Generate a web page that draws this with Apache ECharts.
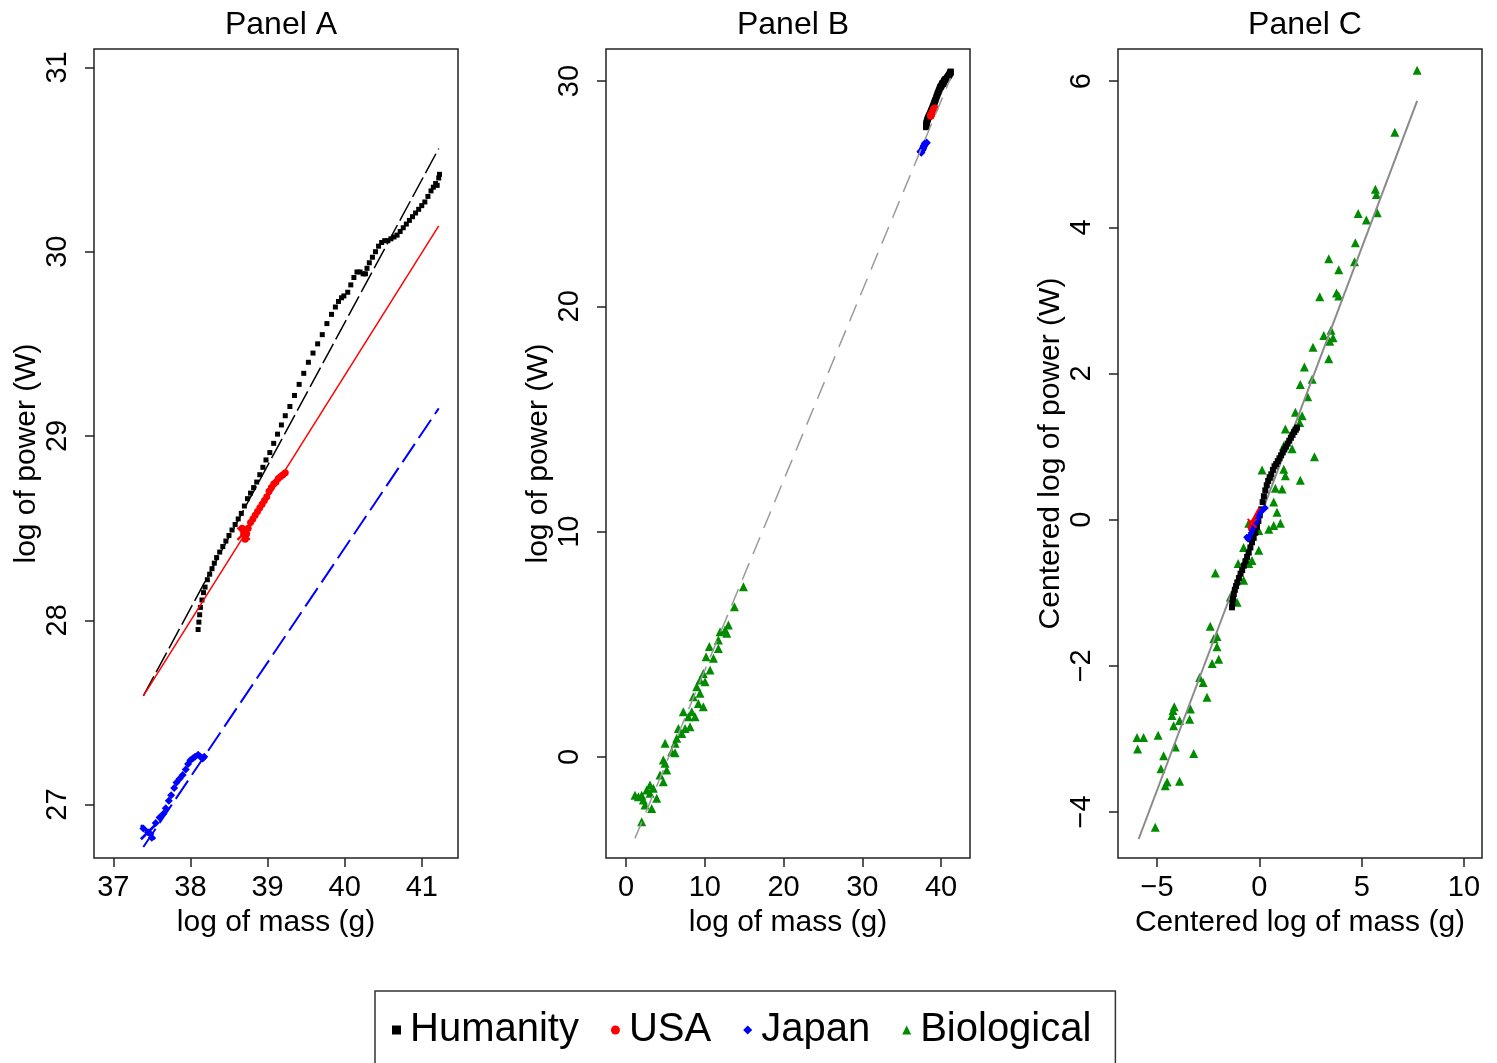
<!DOCTYPE html>
<html>
<head>
<meta charset="utf-8">
<title>Panels A, B, C</title>
<script src="https://cdn.jsdelivr.net/npm/echarts@6/dist/echarts.min.js"></script>
<style>
  html, body { margin: 0; padding: 0; background: #fff; }
  #chart { width: 1497px; height: 1063px; }
</style>
</head>
<body>
<div id="chart"></div>
<script>
// --- data ---

// Panel A / B: raw log values (same points in both panels)
const humanityA = [
  [38.10, 27.95], [38.11, 27.99], [38.12, 28.03], [38.13, 28.07], [38.15, 28.11], [38.17, 28.15],
  [38.19, 28.18], [38.22, 28.22], [38.25, 28.25], [38.28, 28.28], [38.31, 28.31], [38.34, 28.34],
  [38.38, 28.37], [38.42, 28.40], [38.46, 28.43], [38.50, 28.46], [38.54, 28.49], [38.58, 28.52],
  [38.62, 28.55], [38.66, 28.58], [38.70, 28.62], [38.74, 28.66], [38.78, 28.69], [38.82, 28.72],
  [38.86, 28.75], [38.90, 28.79], [38.94, 28.83], [38.98, 28.87], [39.03, 28.91], [39.08, 28.96],
  [39.13, 29.01], [39.18, 29.06], [39.23, 29.11], [39.29, 29.16], [39.35, 29.22], [39.41, 29.28],
  [39.47, 29.34], [39.53, 29.40], [39.59, 29.45], [39.65, 29.50], [39.71, 29.55], [39.77, 29.61],
  [39.83, 29.66], [39.88, 29.70], [39.92, 29.73], [39.96, 29.75], [39.99, 29.76], [40.04, 29.78],
  [40.08, 29.82], [40.12, 29.86], [40.16, 29.89], [40.20, 29.89], [40.24, 29.88], [40.27, 29.88],
  [40.29, 29.91], [40.32, 29.94], [40.36, 29.97], [40.40, 30.00], [40.44, 30.03], [40.48, 30.05],
  [40.52, 30.06], [40.56, 30.06], [40.60, 30.07], [40.64, 30.08], [40.68, 30.09], [40.72, 30.11],
  [40.76, 30.13], [40.80, 30.15], [40.84, 30.17], [40.88, 30.19], [40.92, 30.21], [40.96, 30.23],
  [41.00, 30.25], [41.04, 30.27], [41.08, 30.30], [41.12, 30.33], [41.15, 30.35], [41.18, 30.37],
  [41.20, 30.36], [41.22, 30.40], [41.23, 30.42]
];
const usaA = [
  [38.69, 28.47], [38.67, 28.50], [38.71, 28.44], [38.73, 28.47], [38.75, 28.50], [38.78, 28.53],
  [38.81, 28.55], [38.84, 28.57], [38.87, 28.59], [38.90, 28.61], [38.93, 28.63], [38.96, 28.65],
  [38.99, 28.67], [39.02, 28.70], [39.05, 28.72], [39.08, 28.74], [39.11, 28.75], [39.14, 28.77],
  [39.17, 28.78], [39.20, 28.79], [39.23, 28.80]
];
const japanA = [
  [37.45, 26.85], [37.39, 26.87], [37.48, 26.84], [37.50, 26.82], [37.55, 26.90], [37.60, 26.93],
  [37.65, 26.95], [37.68, 26.98], [37.72, 27.02], [37.75, 27.05], [37.79, 27.09], [37.82, 27.12],
  [37.86, 27.14], [37.90, 27.16], [37.94, 27.19], [37.97, 27.22], [38.00, 27.24], [38.03, 27.25],
  [38.06, 27.26], [38.10, 27.27], [38.13, 27.26], [38.16, 27.25], [38.18, 27.26]
];
const humanityFitA = [[37.39, 27.59], [41.22, 30.56]];
const usaFitA = [[37.39, 27.59], [41.22, 30.14]];
const japanFitA = [[37.39, 26.77], [41.22, 29.15]];

// Panel B: biological points and overall fit
const bioB = [
  [14.91, 7.56], [13.77, 6.67], [13.00, 5.86], [12.58, 5.64], [11.94, 5.56], [12.79, 5.49],
  [11.73, 5.19], [10.59, 4.90], [11.73, 4.82], [10.17, 4.45], [11.10, 4.38], [10.67, 3.86],
  [9.82, 3.71], [9.40, 3.42], [10.04, 3.34], [8.98, 3.12], [9.40, 2.83], [8.55, 2.68],
  [9.19, 2.38], [9.82, 2.23], [7.28, 2.01], [8.35, 2.01], [7.92, 1.79], [8.77, 1.79],
  [8.13, 1.34], [7.50, 1.27], [6.65, 1.27], [7.08, 1.05], [6.44, 0.83], [4.96, 0.61],
  [6.23, 0.61], [5.80, 0.24], [6.23, 0.19], [4.74, -0.13], [4.96, -0.28], [5.17, -0.58],
  [4.32, -0.80], [4.74, -1.10], [3.05, -1.24], [3.47, -1.39], [2.63, -1.46], [1.14, -1.69],
  [1.57, -1.76], [1.99, -1.69], [2.20, -1.91], [3.05, -1.61], [3.90, -1.83], [2.41, -2.13],
  [3.26, -2.28], [1.99, -2.87]
];
const fitB = [[1.14, -3.61], [41.22, 30.14]];

// Panel C: centred values
const bioC = [
  [7.71, 6.15], [6.62, 5.30], [5.67, 4.52], [5.72, 4.45], [5.76, 4.20], [4.83, 4.19],
  [5.23, 4.10], [4.69, 3.79], [3.39, 3.57], [4.65, 3.53], [3.88, 3.42], [2.95, 3.05],
  [3.77, 3.10], [3.88, 3.06], [3.50, 2.59], [3.15, 2.52], [3.60, 2.49], [3.44, 2.44],
  [2.62, 2.36], [3.39, 2.20], [2.20, 2.09], [2.58, 1.92], [2.00, 1.85], [2.36, 1.68],
  [1.76, 1.47], [2.09, 1.42], [1.97, 1.33], [1.27, 1.24], [1.65, 1.22], [1.19, 1.01],
  [1.60, 0.97], [2.69, 0.86], [0.13, 0.68], [1.19, 0.69], [1.27, 0.60], [0.54, 0.59],
  [2.00, 0.54], [0.78, 0.43], [1.11, 0.42], [0.70, 0.24], [0.86, 0.10], [-0.52, -0.05],
  [1.03, -0.05], [0.70, -0.08], [0.46, -0.13], [-0.03, -0.15], [-0.77, -0.38], [-0.03, -0.42],
  [-0.36, -0.56], [-1.04, -0.60], [-0.52, -0.60], [-2.15, -0.73], [-0.77, -0.83], [-1.42, -1.06],
  [-1.09, -1.13], [-2.40, -1.46], [-2.07, -1.60], [-2.23, -1.63], [-2.07, -1.74], [-1.99, -1.91],
  [-2.31, -1.97], [-2.92, -2.16], [-2.75, -2.23], [-2.56, -2.43], [-4.16, -2.56], [-4.22, -2.61],
  [-4.27, -2.68], [-3.37, -2.59], [-3.41, -2.73], [-3.90, -2.75], [-4.19, -2.82], [-5.98, -2.98],
  [-5.66, -2.98], [-4.95, -2.95], [-5.95, -3.14], [-4.11, -3.11], [-4.68, -3.23], [-3.21, -3.20],
  [-4.81, -3.41], [-4.51, -3.59], [-4.60, -3.64], [-3.90, -3.58], [-5.09, -4.21]
];
const humanityC = [
  [-1.34, -1.20], [-1.32, -1.14], [-1.29, -1.08], [-1.25, -1.02], [-1.20, -0.96], [-1.14, -0.91],
  [-1.08, -0.86], [-1.00, -0.80], [-0.92, -0.74], [-0.84, -0.69], [-0.76, -0.63], [-0.68, -0.57],
  [-0.60, -0.51], [-0.52, -0.45], [-0.44, -0.38], [-0.36, -0.31], [-0.28, -0.25], [-0.20, -0.18],
  [-0.12, -0.10], [-0.05, -0.02], [0.02, 0.06], [0.09, 0.14], [0.16, 0.24], [0.22, 0.32],
  [0.29, 0.40], [0.36, 0.47], [0.43, 0.53], [0.50, 0.58], [0.58, 0.62], [0.66, 0.68],
  [0.74, 0.73], [0.82, 0.76], [0.90, 0.80], [0.98, 0.84], [1.06, 0.88], [1.14, 0.92],
  [1.22, 0.96], [1.30, 1.00], [1.38, 1.04], [1.46, 1.08], [1.54, 1.12], [1.62, 1.16],
  [1.70, 1.20], [1.78, 1.23], [1.84, 1.26]
];
const usaC = [
  [-0.36, -0.05], [-0.42, -0.12], [-0.38, -0.09], [-0.33, -0.06], [-0.28, -0.03], [-0.22, 0.00],
  [-0.16, 0.03], [-0.10, 0.06], [-0.04, 0.09], [0.02, 0.12]
];
const japanC = [
  [-0.62, -0.24], [-0.55, -0.27], [-0.48, -0.22], [-0.40, -0.18], [-0.33, -0.14], [-0.25, -0.09],
  [-0.17, -0.04], [-0.09, 0.01], [-0.01, 0.06], [0.07, 0.10], [0.15, 0.13], [0.22, 0.15],
  [0.29, 0.16]
];
const fitC = [[-5.90, -4.37], [7.71, 5.73]];

// axis ticks and ranges
const ticksAx = [37, 38, 39, 40, 41];
const ticksAy = [27, 28, 29, 30, 31];
const ticksBx = [0, 10, 20, 30, 40];
const ticksBy = [0, 10, 20, 30];
const ticksCx = [-5, 0, 5, 10];
const ticksCy = [-4, -2, 0, 2, 4, 6];
const rangesX = [[36.75, 41.47], [-2.54, 43.68], [-6.91, 10.88]];
const rangesY = [[26.71, 31.10], [-4.48, 31.42], [-4.63, 6.44]];

const panelTitles = ['Panel A', 'Panel B', 'Panel C'];
const xNames = ['log of mass (g)', 'log of mass (g)', 'Centered log of mass (g)'];
const yNames = ['log of power (W)', 'log of power (W)', 'Centered log of power (W)'];
const legendNames = ['Humanity', 'USA', 'Japan', 'Biological'];

// --- layout / style ---
const FONT = '"Liberation Sans", Arial, Helvetica, sans-serif';
const gridLeft = [94, 606, 1118];
const GRID_TOP = 49, GRID_W = 364, GRID_H = 809;
const BLACK = '#000', RED = '#ff0000', BLUE = '#0000ff', GREEN = '#008b00';
const CROSS = 'path://M0,1.2L1.2,0L5,3.8L8.8,0L10,1.2L6.2,5L10,8.8L8.8,10L5,6.2L1.2,10L0,8.8L3.8,5Z';

const minus = (v) => String(v).replace('-', '\u2212');

const xTicks = [ticksAx, ticksBx, ticksCx];
const yTicks = [ticksAy, ticksBy, ticksCy];

const grids = gridLeft.map((left) => ({
  left, top: GRID_TOP, width: GRID_W, height: GRID_H,
  show: true, borderColor: '#222', borderWidth: 1.5, backgroundColor: 'transparent',
}));

const xAxes = rangesX.map((r, i) => ({
  type: 'value', gridIndex: i, min: r[0], max: r[1],
  name: xNames[i], nameLocation: 'middle', nameGap: 50,
  nameTextStyle: { fontFamily: FONT, fontSize: 30, color: '#000' },
  axisLine: { show: false, onZero: false },
  axisTick: { show: true, length: 9, customValues: xTicks[i], lineStyle: { color: '#222', width: 1.5 } },
  axisLabel: { customValues: xTicks[i], margin: 15, fontFamily: FONT, fontSize: 29, color: '#000', formatter: minus },
  splitLine: { show: false },
}));

const yAxes = rangesY.map((r, i) => ({
  type: 'value', gridIndex: i, min: r[0], max: r[1],
  name: yNames[i], nameLocation: 'middle', nameGap: 52, nameRotate: 90,
  nameTextStyle: { fontFamily: FONT, fontSize: 30, color: '#000' },
  axisLine: { show: false, onZero: false },
  axisTick: { show: true, length: 9, customValues: yTicks[i], lineStyle: { color: '#222', width: 1.5 } },
  axisLabel: { customValues: yTicks[i], rotate: 90, margin: 22, fontFamily: FONT, fontSize: 29, color: '#000', formatter: minus },
  splitLine: { show: false },
}));

function pts(name, data, grid, symbol, size, color, z) {
  return {
    name, type: 'scatter', xAxisIndex: grid, yAxisIndex: grid, data,
    symbol, symbolSize: size, itemStyle: { color, opacity: 1 }, z: z || 2,
    silent: true,
  };
}
function fit(name, data, grid, color, type, width, z) {
  return {
    name, type: 'line', xAxisIndex: grid, yAxisIndex: grid, data,
    showSymbol: false, symbol: 'none',
    lineStyle: { color, type, width }, z: z || 3, silent: true,
  };
}

const series = [
  // Panel A
  pts('Humanity', humanityA, 0, 'rect', 5, BLACK),
  pts('USA', usaA, 0, 'circle', 7, RED),
  pts('Japan', japanA, 0, 'diamond', 8, BLUE),
  pts('usaStart', usaA.slice(0, 1), 0, CROSS, 14, RED),
  pts('japanStart', japanA.slice(0, 1), 0, CROSS, 16, BLUE),
  fit('humanityFit', humanityFitA, 0, BLACK, [22, 5], 1.5),
  fit('usaFit', usaFitA, 0, RED, 'solid', 1.5),
  fit('japanFit', japanFitA, 0, BLUE, [22, 7], 2),
  // Panel B
  pts('Biological', bioB, 1, 'triangle', 9, GREEN),
  pts('Humanity', humanityA, 1, 'rect', 6, BLACK),
  pts('USA', usaA, 1, 'circle', 7, RED),
  pts('Japan', japanA, 1, 'diamond', 8, BLUE),
  fit('fitB', fitB, 1, '#9a9a9a', [18, 10], 1.5, 4),
  // Panel C
  pts('Biological', bioC, 2, 'triangle', 9, GREEN),
  fit('fitC', fitC, 2, '#8a8a8a', 'solid', 2, 3),
  pts('Humanity', humanityC, 2, 'rect', 6, BLACK, 4),
  pts('USA', usaC, 2, 'circle', 6, RED, 4),
  pts('Japan', japanC, 2, 'diamond', 7, BLUE, 4),
  pts('usaStartC', usaC.slice(0, 1), 2, CROSS, 10, RED, 4),
];

const option = {
  animation: false,
  backgroundColor: '#fff',
  title: panelTitles.map((t, i) => ({
    text: t, left: gridLeft[i] + GRID_W / 2, top: 4, textAlign: 'center',
    textStyle: { fontFamily: FONT, fontSize: 32, fontWeight: 'normal', color: '#000' },
  })),
  grid: grids,
  xAxis: xAxes,
  yAxis: yAxes,
  legend: {
    data: legendNames,
    left: 375, top: 991,
    orient: 'horizontal',
    itemWidth: 9, itemHeight: 9, itemGap: 32,
    padding: [19, 24, 40, 17],
    borderColor: '#333', borderWidth: 1.5,
    selectedMode: false,
    textStyle: { fontFamily: FONT, fontSize: 40, color: '#000', padding: [0, 0, 0, 4] },
  },
  series,
};

const chart = echarts.init(document.getElementById('chart'));
chart.setOption(option);
</script>
</body>
</html>
